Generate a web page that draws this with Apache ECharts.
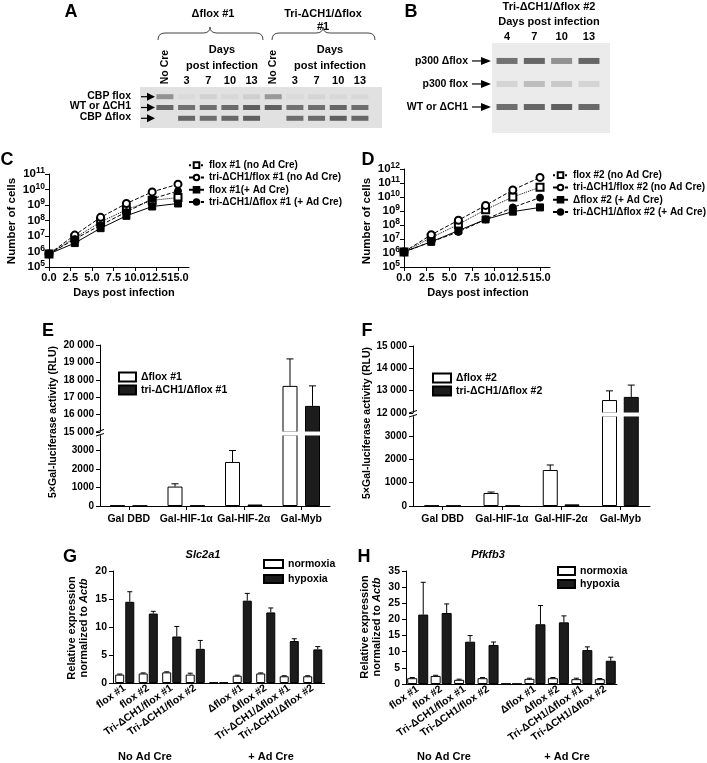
<!DOCTYPE html>
<html>
<head>
<meta charset="utf-8">
<script src="https://cdn.jsdelivr.net/npm/echarts@6.0.0/dist/echarts.min.js"></script>
<style>html,body{margin:0;padding:0;background:#fff;}#chart{width:707px;height:763px;}</style>
</head>
<body>
<div id="chart"></div>
<script>
// ===================== DATA =====================
// Panel A gel (band intensity 0..1 per lane)
const gelALanes = ['No Cre','3','7','10','13','No Cre','3','7','10','13'];
const gelABands = ['CBP flox','WT or ΔCH1','CBP Δflox'];
const gelACbpFlox  = [0.55,0.05,0.1,0.06,0.12,0.5,0.05,0.08,0.06,0.06];
const gelAWt       = [0.85,0.78,0.8,0.82,0.9,0.9,0.78,0.8,0.85,0.8];
const gelACbpDflox = [0,0.85,0.8,0.85,0.9,0,0.8,0.82,0.9,0.85];
// Panel B gel
const gelBLanes = ['4','7','10','13'];
const gelBBands = ['p300 Δflox','p300 flox','WT or ΔCH1'];
const gelBP300Dflox = [0.8,0.88,0.6,0.88];
const gelBP300Flox  = [0.15,0.3,0.22,0.15];
const gelBWt        = [0.82,0.88,0.92,0.86];
// Panels C / D : growth curves
const days = [0,3,6,9,12,15];
const dayTicks = [0,2.5,5,7.5,10,12.5,15];
const cNames = ['flox #1 (no Ad Cre)','tri-ΔCH1/flox #1 (no Ad Cre)','flox #1(+ Ad Cre)','tri-ΔCH1/Δflox #1 (+ Ad Cre)'];
const cFlox1NoCre    = [7e5, 7.5e6, 8e7, 5e8, 2e9, 3e9];
const cTriFlox1NoCre = [7e5, 1.15e7, 1.6e8, 1.25e9, 7e9, 2.2e10];
const cDflox1Cre     = [7e5, 3.5e6, 3.2e7, 2e8, 8e8, 1.25e9];
const cTriDflox1Cre  = [7e5, 6.3e6, 5e7, 3.5e8, 2.5e9, 8e9];
const dNames = ['flox #2 (no Ad Cre)','tri-ΔCH1/flox #2 (no Ad Cre)','Δflox #2 (+ Ad Cre)','tri-ΔCH1/Δflox #2 (+ Ad Cre)'];
const dFlox2NoCre    = [1.2e6, 1.25e7, 1.1e8, 1.25e9, 1e10, 5e10];
const dTriFlox2NoCre = [1.2e6, 2e7, 2.2e8, 2.5e9, 3.2e10, 2.5e11];
const dDflox2Cre     = [1.2e6, 6.3e6, 4e7, 2.5e8, 9e8, 1.8e9];
const dTriDflox2Cre  = [1.2e6, 6.3e6, 3.2e7, 2.5e8, 1.8e9, 9e9];
// Panels E / F : luciferase
const lucCats = ['Gal DBD','Gal-HIF-1α','Gal-HIF-2α','Gal-Myb'];
const eNames = ['Δflox #1','tri-ΔCH1/Δflox #1'];
const eDflox1    = [30, 1050, 2380, 17650];
const eDflox1Err = [null, 1200, 3000, 19200];
const eTri1      = [20, 25, 80, 16500];
const eTri1Err   = [null, null, null, 17650];
const eLowTicks  = [0,1000,2000,3000];
const fNames = ['Δflox #2','tri-ΔCH1/Δflox #2'];
const fDflox2    = [20, 560, 1545, 12580];
const fDflox2Err = [null, 600, 1760, 12990];
const fTri2      = [15, 15, 70, 12720];
const fTri2Err   = [null, null, null, 13250];
const fLowTicks  = [0,1000,2000,3000];
// Panels G / H : qPCR
const qCats = ['flox #1','flox #2','Tri-ΔCH1/flox #1','Tri-ΔCH1/flox #2','','Δflox #1','Δflox #2','Tri-ΔCH1/Δflox #1','Tri-ΔCH1/Δflox #2'];
const qNames = ['normoxia','hypoxia'];
const gNorm    = [1.5, 1.7, 1.9, 1.5, 0.1, 1.3, 1.7, 1.2, 1.2];
const gNormErr = [1.6, 1.8, 2.0, 1.75, null, 1.4, 1.8, 1.3, 1.3];
const gHyp     = [14.5, 12.4, 8.3, 6.1, 0.1, 14.7, 12.6, 7.5, 6.0];
const gHypErr  = [16.3, 12.8, 10.1, 7.6, null, 16.0, 13.4, 7.9, 6.5];
const hNorm    = [1.8, 2.5, 1.3, 1.8, 0.1, 1.6, 1.8, 1.5, 1.5];
const hNormErr = [2.0, 2.7, 1.5, 2.0, null, 1.8, 2.0, 1.8, 1.7];
const hHyp     = [21.5, 22.0, 13.1, 12.1, 0.1, 18.5, 19.1, 10.5, 7.2];
const hHypErr  = [31.5, 24.8, 15.0, 13.0, null, 24.3, 21.1, 11.5, 8.3];

// ===================== STYLE HELPERS =====================
const F = '"Liberation Sans", Arial, Helvetica, sans-serif';
const lab = (s) => ({color:'#000', fontWeight:'bold', fontFamily:F, fontSize:s});
const axLine = {show:true, onZero:false, lineStyle:{color:'#000', width:1}};
const axTick = {show:true, length:4, lineStyle:{color:'#000', width:1}};
const noSplit = {show:false};
const whiteBar = {color:'#fff', borderColor:'#000', borderWidth:1};
const blackBar = {color:'#1c1c1c', borderColor:'#000', borderWidth:1};
const fmtK = v => v >= 10000 ? Math.floor(v/1000) + ' ' + String(v % 1000).padStart(3,'0') : String(v);
const logLabel = {
  ...lab(11.5), margin:4, showMinLabel:true, showMaxLabel:true, hideOverlap:false,
  formatter: v => '{b|10}{s|' + Math.round(Math.log10(v)) + '}',
  rich: {
    b:{fontSize:11.5, fontWeight:'bold', fontFamily:F, color:'#000', lineHeight:15},
    s:{fontSize:8.5, fontWeight:'bold', fontFamily:F, color:'#000', lineHeight:9, verticalAlign:'top'}
  }
};

function gelData(rows){
  const out = [];
  rows.forEach((row, j) => row.forEach((v, i) => { if (v > 0) out.push([i, j, v]); }));
  return out;
}
function lineSeries(name, vals, gi, symbol, type){
  return {type:'line', name, xAxisIndex:gi, yAxisIndex:gi, data: days.map((d,i)=>[d, vals[i]]),
    symbol, symbolSize:7, z:3,
    lineStyle:{color:'#000', width:1, type}, itemStyle:{color:'#000', borderColor:'#000', borderWidth:1}};
}
function barSeries(name, vals, gi, style, bw, gap){
  return {type:'bar', name, xAxisIndex:gi, yAxisIndex:gi, data:vals, barWidth:bw, barGap:gap,
    itemStyle:style, clip:true, z:2, animation:false};
}
function errSeries(means, tops, gi, off, cap){
  const data = [];
  means.forEach((m,i)=>{ if (tops[i] != null) data.push([i, m, tops[i]]); });
  return {type:'custom', xAxisIndex:gi, yAxisIndex:gi, clip:true, silent:true, z:4, data,
    renderItem(params, api){
      const p0 = api.coord([api.value(0), api.value(1)]);
      const p1 = api.coord([api.value(0), api.value(2)]);
      const x = p0[0] + off;
      return {type:'group', children:[
        {type:'line', shape:{x1:x, y1:p0[1], x2:x, y2:p1[1]}, style:{stroke:'#000', lineWidth:1}},
        {type:'line', shape:{x1:x-cap, y1:p1[1], x2:x+cap, y2:p1[1]}, style:{stroke:'#000', lineWidth:1}}
      ]};
    }};
}

// bar geometry
const lucBW = 15, lucGapE = 0.5, lucGapF = 0.45;
const qBW = 9, qGap = 0.12, hBW = 10, hGap = 0.1;

const series = [
  {type:'scatter', name:'gelA', xAxisIndex:0, yAxisIndex:0, symbol:'rect', symbolSize:[17,5], silent:true,
   data: gelData([gelACbpFlox, gelAWt, gelACbpDflox]),
   itemStyle:{color: p => 'rgba(45,45,45,' + p.value[2] + ')'}},
  {type:'scatter', name:'gelB', xAxisIndex:1, yAxisIndex:1, symbol:'rect', symbolSize:[21,6], silent:true,
   data: gelData([gelBP300Dflox, gelBP300Flox, gelBWt]),
   itemStyle:{color: p => 'rgba(45,45,45,' + p.value[2] + ')'}},
  lineSeries(cNames[0], cFlox1NoCre, 2, 'emptyRect', 'dotted'),
  lineSeries(cNames[1], cTriFlox1NoCre, 2, 'emptyCircle', 'dashed'),
  lineSeries(cNames[2], cDflox1Cre, 2, 'rect', 'solid'),
  lineSeries(cNames[3], cTriDflox1Cre, 2, 'circle', 'dashed'),
  lineSeries(dNames[0], dFlox2NoCre, 3, 'emptyRect', 'dotted'),
  lineSeries(dNames[1], dTriFlox2NoCre, 3, 'emptyCircle', 'dashed'),
  lineSeries(dNames[2], dDflox2Cre, 3, 'rect', 'solid'),
  lineSeries(dNames[3], dTriDflox2Cre, 3, 'circle', 'dashed'),
];
[4,5].forEach(gi => {
  series.push(barSeries(eNames[0], eDflox1, gi, whiteBar, lucBW, (lucGapE*100)+'%'));
  series.push(barSeries(eNames[1], eTri1, gi, blackBar, lucBW, (lucGapE*100)+'%'));
  const off = lucBW*(1+lucGapE)/2;
  series.push(errSeries(eDflox1, eDflox1Err, gi, -off, 3.5));
  series.push(errSeries(eTri1, eTri1Err, gi, off, 3.5));
});
[6,7].forEach(gi => {
  series.push(barSeries(fNames[0], fDflox2, gi, whiteBar, lucBW, (lucGapF*100)+'%'));
  series.push(barSeries(fNames[1], fTri2, gi, blackBar, lucBW, (lucGapF*100)+'%'));
  const off = lucBW*(1+lucGapF)/2;
  series.push(errSeries(fDflox2, fDflox2Err, gi, -off, 3.5));
  series.push(errSeries(fTri2, fTri2Err, gi, off, 3.5));
});
{
  const off = qBW*(1+qGap)/2;
  series.push(barSeries(qNames[0], gNorm, 8, whiteBar, qBW, (qGap*100)+'%'));
  series.push(barSeries(qNames[1], gHyp, 8, blackBar, qBW, (qGap*100)+'%'));
  series.push(errSeries(gNorm, gNormErr, 8, -off, 2.5));
  series.push(errSeries(gHyp, gHypErr, 8, off, 2.5));
  const offH = hBW*(1+hGap)/2;
  series.push(barSeries(qNames[0], hNorm, 9, whiteBar, hBW, (hGap*100)+'%'));
  series.push(barSeries(qNames[1], hHyp, 9, blackBar, hBW, (hGap*100)+'%'));
  series.push(errSeries(hNorm, hNormErr, 9, -offH, 2.5));
  series.push(errSeries(hHyp, hHypErr, 9, offH, 2.5));
}

const legText = {...lab(10), lineHeight:12.3};
const barLegText = {...lab(10.5), lineHeight:13};
const xDayLabel = {...lab(11), customValues:dayTicks, formatter:v=>v.toFixed(1), margin:5, showMinLabel:true, showMaxLabel:true, hideOverlap:false};

const option = {
  animation:false,
  backgroundColor:'#fff',
  grid: [
    {left:140, top:87, width:242, height:41, show:true, backgroundColor:'#e1e1e1', borderWidth:0},
    {left:492, top:43, width:118, height:90, show:true, backgroundColor:'#ebebeb', borderWidth:0},
    {left:49, top:174, width:140, height:93},
    {left:404, top:169, width:146, height:98},
    {left:100, top:345, width:230, height:87},
    {left:100, top:435, width:230, height:71},
    {left:413, top:346, width:237, height:67},
    {left:413, top:416, width:237, height:90},
    {left:113, top:571, width:211.5, height:112},
    {left:406, top:571, width:211, height:113}
  ],
  xAxis: [
    {gridIndex:0, type:'value', min:-1.15, max:10.02, show:false},
    {gridIndex:1, type:'value', min:-0.55, max:3.77, show:false},
    {gridIndex:2, type:'value', min:0, max:16.28, axisLine:axLine, axisTick:{...axTick, customValues:dayTicks},
      axisLabel:xDayLabel, splitLine:noSplit},
    {gridIndex:3, type:'value', min:0, max:16.1, axisLine:axLine, axisTick:{...axTick, customValues:dayTicks},
      axisLabel:xDayLabel, splitLine:noSplit},
    {gridIndex:4, type:'category', data:lucCats, show:false},
    {gridIndex:5, type:'category', data:lucCats, axisLine:axLine, axisTick:{...axTick, alignWithLabel:true},
      axisLabel:{...lab(10.5), margin:8, interval:0}},
    {gridIndex:6, type:'category', data:lucCats, show:false},
    {gridIndex:7, type:'category', data:lucCats, axisLine:axLine, axisTick:{...axTick, alignWithLabel:true},
      axisLabel:{...lab(10.5), margin:8, interval:0}},
    {gridIndex:8, type:'category', data:qCats, axisLine:axLine, axisTick:{show:false},
      axisLabel:{...lab(10.5), rotate:35, interval:0, margin:4}},
    {gridIndex:9, type:'category', data:qCats, axisLine:axLine, axisTick:{show:false},
      axisLabel:{...lab(10.5), rotate:35, interval:0, margin:4}}
  ],
  yAxis: [
    {gridIndex:0, type:'value', inverse:true, min:-0.9, max:2.9, show:false},
    {gridIndex:1, type:'value', inverse:true, min:-0.78, max:3.13, show:false},
    {gridIndex:2, type:'log', logBase:10, min:1e5, max:1e11, splitNumber:6, axisLine:axLine, axisTick:axTick, axisLabel:logLabel, splitLine:noSplit},
    {gridIndex:3, type:'log', logBase:10, min:1e5, max:1e12, splitNumber:7, axisLine:axLine, axisTick:axTick, axisLabel:logLabel, splitLine:noSplit},
    {gridIndex:4, type:'value', min:15000, max:20000, interval:1000, axisLine:axLine, axisTick:axTick,
      axisLabel:{...lab(10), formatter:fmtK, margin:6}, splitLine:noSplit},
    {gridIndex:5, type:'value', min:0, max:3838, axisLine:axLine, axisTick:{...axTick, customValues:eLowTicks},
      axisLabel:{...lab(10), customValues:eLowTicks, formatter:fmtK, margin:6}, splitLine:noSplit},
    {gridIndex:6, type:'value', min:12000, max:15000, interval:1000, axisLine:axLine, axisTick:axTick,
      axisLabel:{...lab(10), formatter:fmtK, margin:6}, splitLine:noSplit},
    {gridIndex:7, type:'value', min:0, max:3863, axisLine:axLine, axisTick:{...axTick, customValues:fLowTicks},
      axisLabel:{...lab(10), customValues:fLowTicks, formatter:fmtK, margin:6}, splitLine:noSplit},
    {gridIndex:8, type:'value', min:0, max:20, interval:5, axisLine:axLine, axisTick:axTick,
      axisLabel:{...lab(10.5), margin:6}, splitLine:noSplit},
    {gridIndex:9, type:'value', min:0, max:35, interval:5, axisLine:axLine, axisTick:axTick,
      axisLabel:{...lab(10.5), margin:6}, splitLine:noSplit}
  ],
  legend: [
    {data:cNames, orient:'vertical', left:188, top:159, padding:0, itemWidth:15, itemHeight:7, itemGap:0, itemTextGap:3, textStyle:legText, selectedMode:false},
    {data:dNames, orient:'vertical', left:552, top:169, padding:0, itemWidth:15, itemHeight:7, itemGap:0, itemTextGap:2, textStyle:legText, selectedMode:false},
    {data:eNames, orient:'vertical', left:118, top:370.5, padding:0, icon:'rect', itemWidth:17, itemHeight:9, itemGap:0, itemTextGap:5, textStyle:barLegText, selectedMode:false},
    {data:fNames, orient:'vertical', left:432, top:371.5, padding:0, icon:'rect', itemWidth:18, itemHeight:9, itemGap:0, itemTextGap:4, textStyle:barLegText, selectedMode:false},
    {data:qNames, orient:'vertical', left:263, top:557.5, padding:0, icon:'rect', itemWidth:19, itemHeight:8, itemGap:2, itemTextGap:3, textStyle:barLegText, selectedMode:false},
    {data:qNames, orient:'vertical', left:557, top:564.5, padding:0, icon:'rect', itemWidth:17, itemHeight:8, itemGap:0, itemTextGap:4, textStyle:barLegText, selectedMode:false}
  ],
  series
};

const chart = echarts.init(document.getElementById('chart'), null, {renderer:'canvas'});
chart.setOption(option);

// ===================== ANNOTATIONS =====================
function T(x, y, text, o){
  o = o || {};
  const st = {text, x:0, y:0, fill:'#000', fontFamily:F, fontWeight:o.w || 'bold', fontSize:o.s || 11,
    fontStyle:o.it ? 'italic' : 'normal',
    align:o.a || 'center', verticalAlign:'middle', textAlign:o.a || 'center', textVerticalAlign:'middle'};
  if (o.rich) st.rich = o.rich;
  if (o.lh) st.lineHeight = o.lh;
  return {type:'text', x, y, rotation:o.rot || 0, z:100, silent:true, style:st};
}
function L(x1,y1,x2,y2,w){ return {type:'line', z:100, silent:true, shape:{x1,y1,x2,y2}, style:{stroke:'#000', lineWidth:w||1}}; }
function arrow(xs, xh, xe, y){
  return [L(xs,y,xh,y,1.2), {type:'polygon', z:100, silent:true, shape:{points:[[xh,y-4],[xe,y],[xh,y+4]]}, style:{fill:'#000'}}];
}
function Q(x1,y1,cx,cy,x2,y2){ return {type:'bezierCurve', z:100, silent:true, shape:{x1,y1,x2,y2,cpx1:cx,cpy1:cy}, style:{stroke:'#444', lineWidth:1, fill:null}}; }
function brace(x0, xm, x1, yb, yl, yp){
  return [Q(x0,yb,x0,yl,x0+7,yl), L(x0+7,yl,xm-7,yl), Q(xm-7,yl,xm,yl,xm,yp),
          Q(xm,yp,xm,yl,xm+7,yl), L(xm+7,yl,x1-7,yl), Q(x1-7,yl,x1,yl,x1,yb)].map(e=>{e.style.stroke='#444'; return e;});
}
function white(x,y,w,h){ return {type:'rect', z:90, silent:true, shape:{x,y,width:w,height:h}, style:{fill:'#fff'}}; }

const g = [];
// Panel A
g.push(T(71,12,'A',{s:18}));
g.push(T(213,14,'Δflox #1',{s:11}));
g.push(T(323,14,'Tri-ΔCH1/Δflox',{s:11}));
g.push(T(323,27,'#1',{s:11}));
g.push(...brace(158,210,263,40,33,27));
g.push(...brace(272,323,375,40,33,27));
g.push(T(222,50,'Days',{s:11})); g.push(T(222,66,'post infection',{s:11}));
g.push(T(330,50,'Days',{s:11})); g.push(T(330,66,'post infection',{s:11}));
gelALanes.forEach((l,i)=>{
  const x = chart.convertToPixel({xAxisIndex:0}, i);
  if (l === 'No Cre') g.push(T(x,67,l,{s:10.5, rot:Math.PI/2}));
  else g.push(T(x,81,l,{s:11}));
});
gelABands.forEach((b,j)=>{
  const y = chart.convertToPixel({yAxisIndex:0}, j);
  g.push(T(131,y-1,b,{s:10.5,a:'right'}));
  g.push(...arrow(141,147,155,y));
});
// Panel B
g.push(T(411,12,'B',{s:18}));
g.push(T(549,7,'Tri-ΔCH1/Δflox #2',{s:11}));
g.push(T(549,22,'Days post infection',{s:11}));
gelBLanes.forEach((l,i)=>{
  const x = chart.convertToPixel({xAxisIndex:1}, i);
  g.push(T(x,37,l,{s:11}));
});
gelBBands.forEach((b,j)=>{
  const y = chart.convertToPixel({yAxisIndex:1}, j);
  g.push(T(468,y,b,{s:10.5,a:'right'}));
  g.push(...arrow(472,481,491,y));
});
// Panel C / D
g.push(T(7,160,'C',{s:18}));
g.push(T(12,221,'Number of cells',{s:11.5, rot:Math.PI/2}));
g.push(T(124,293,'Days post infection',{s:11}));
g.push(T(368,160,'D',{s:18}));
g.push(T(367,221,'Number of cells',{s:11.5, rot:Math.PI/2}));
g.push(T(478,293,'Days post infection',{s:11}));
// Panel E / F
g.push(T(48,331,'E',{s:18}));
g.push(T(53,422,'5×Gal-luciferase activity (RLU)',{s:10.5, rot:Math.PI/2}));
g.push(white(100.6,431.4,231,4.2));
g.push(L(96,432,104,429.5)); g.push(L(96,436,104,433.5));
g.push(T(367,331,'F',{s:18}));
g.push(T(367,423,'5×Gal-luciferase activity (RLU)',{s:10.5, rot:Math.PI/2}));
g.push(white(413.6,412.4,238,4.2));
g.push(L(409,413,417,410.5)); g.push(L(409,417,417,414.5));
// Panel G / H
const richI = {i:{fontStyle:'italic', fontWeight:'bold', fontSize:11, fontFamily:F, fill:'#000'}};
g.push(T(70,557,'G',{s:18}));
g.push(T(203,555,'Slc2a1',{s:11, it:true}));
g.push(T(78,628,'Relative expression\nnormalized to {i|Actb}',{s:11, rot:Math.PI/2, rich:richI, lh:12}));
g.push(T(145,757,'No Ad Cre',{s:11}));
g.push(T(271,757,'+ Ad Cre',{s:11}));
g.push(T(364,557,'H',{s:18}));
g.push(T(488,555,'Pfkfb3',{s:11, it:true}));
g.push(T(371,627,'Relative expression\nnormalized to {i|Actb}',{s:11, rot:Math.PI/2, rich:richI, lh:12}));
g.push(T(444,757,'No Ad Cre',{s:11}));
g.push(T(567,757,'+ Ad Cre',{s:11}));

chart.setOption({graphic:{elements:g}});
</script>
</body>
</html>
